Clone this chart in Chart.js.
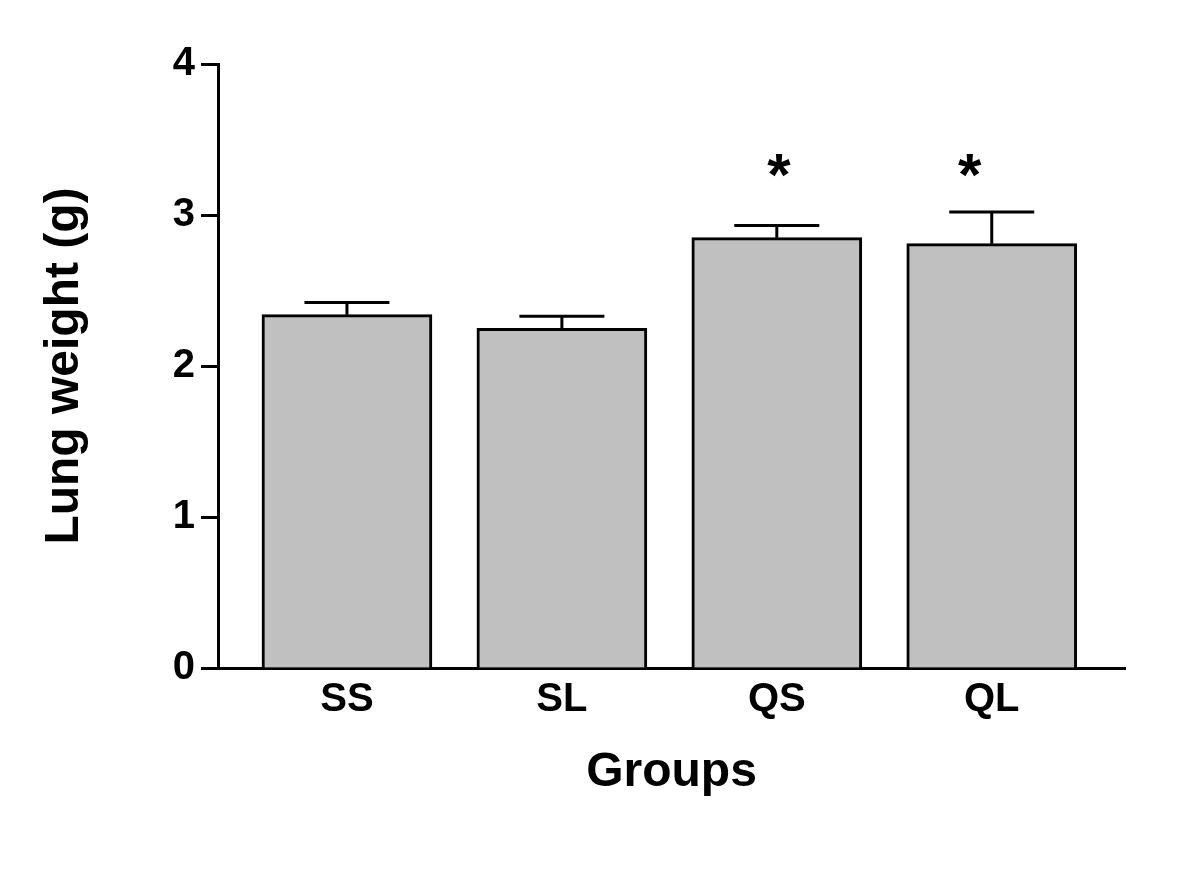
<!DOCTYPE html>
<html>
<head>
<meta charset="utf-8">
<script src="https://cdn.jsdelivr.net/npm/chart.js@4/dist/chart.umd.min.js"></script>
<style>
  html, body { margin: 0; padding: 0; background: #fff; }
  canvas { display: block; }
</style>
</head>
<body>
<canvas id="lungChart" width="1200" height="874"></canvas>
<script>
const groups = ['SS', 'SL', 'QS', 'QL'];
const lungWeight = [2.34, 2.25, 2.85, 2.81];
const lungSem = [0.08, 0.08, 0.08, 0.21];
const significant = [false, false, true, true];
const yTicks = [0, 1, 2, 3, 4];

const FONT = "'Liberation Sans', Arial, sans-serif";
const BAR_W = 170;

// error bars (upper half only) and significance stars
const extrasPlugin = {
    id: 'extras',
    afterDatasetsDraw(chart) {
        const { ctx, scales: { x, y } } = chart;
        ctx.save();
        ctx.strokeStyle = '#000';
        ctx.lineWidth = 3;
        groups.forEach((g, i) => {
            const px = x.getPixelForValue(i);
            const yBar = y.getPixelForValue(lungWeight[i]);
            const yTop = y.getPixelForValue(lungWeight[i] + lungSem[i]);
            ctx.beginPath();
            ctx.moveTo(px, yBar);
            ctx.lineTo(px, yTop);
            ctx.moveTo(px - BAR_W / 4, yTop);
            ctx.lineTo(px + BAR_W / 4, yTop);
            ctx.stroke();
        });
        ctx.fillStyle = '#000';
        ctx.font = 'bold 60px ' + FONT;
        ctx.textAlign = 'center';
        ctx.textBaseline = 'middle';
        significant.forEach((s, i) => {
            if (!s) return;
            // the star over QL sits a little left of the bar centre
            const nudge = i === 3 ? -22 : 2;
            ctx.fillText('*', x.getPixelForValue(i) + nudge, y.getPixelForValue(3.32) + 12);
        });
        ctx.restore();
    }
};

new Chart(document.getElementById('lungChart'), {
    type: 'bar',
    data: {
        datasets: [{
            data: lungWeight.map((v, i) => ({ x: i, y: v })),
            backgroundColor: '#c0c0c0',
            borderColor: '#000',
            borderWidth: 3,
            barThickness: BAR_W
        }]
    },
    options: {
        responsive: false,
        animation: false,
        layout: { padding: { left: 0, right: 75, top: 64, bottom: 72 } },
        plugins: { legend: { display: false }, tooltip: { enabled: false } },
        scales: {
            x: {
                type: 'linear',
                min: -0.6,
                max: 3.62,
                offset: false,
                z: 1,
                afterBuildTicks: s => { s.ticks = groups.map((_, i) => ({ value: i })); },
                afterFit: s => { s.height = 134; },
                ticks: {
                    color: '#000',
                    padding: 8,
                    font: { family: FONT, size: 40, weight: 'bold' },
                    callback: v => groups[v] ?? ''
                },
                grid: { display: false, drawTicks: false, offset: false },
                border: { display: true, color: '#000', width: 3 },
                title: {
                    display: true,
                    text: 'Groups',
                    color: '#000',
                    padding: { top: 0, bottom: 0 },
                    font: { family: FONT, size: 48, weight: 'bold' }
                }
            },
            y: {
                min: 0,
                max: 4,
                z: 1,
                afterBuildTicks: s => { s.ticks = yTicks.map(v => ({ value: v })); },
                afterFit: s => { s.width = 218; },
                ticks: {
                    color: '#000',
                    padding: 6,
                    font: { family: FONT, size: 40, weight: 'bold' }
                },
                grid: {
                    drawOnChartArea: false,
                    drawTicks: true,
                    tickLength: 17,
                    tickWidth: 3,
                    tickColor: '#000'
                },
                border: { display: true, color: '#000', width: 3 },
                title: {
                    display: true,
                    text: 'Lung weight (g)',
                    color: '#000',
                    padding: { top: 36, bottom: 0 },
                    font: { family: FONT, size: 48, weight: 'bold' }
                }
            }
        }
    },
    plugins: [extrasPlugin]
});
</script>
</body>
</html>
